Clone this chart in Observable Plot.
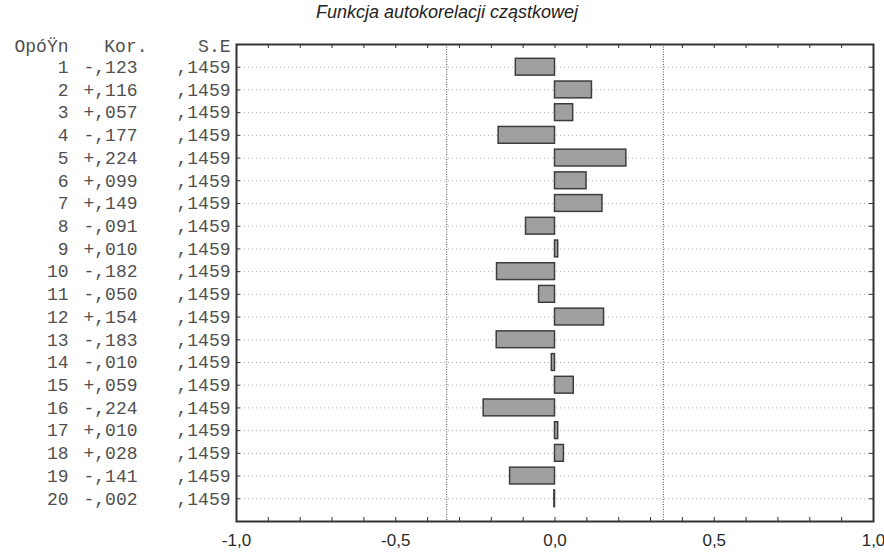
<!DOCTYPE html>
<html><head><meta charset="utf-8">
<script src="https://cdn.jsdelivr.net/npm/d3@7"></script>
<script src="https://cdn.jsdelivr.net/npm/@observablehq/plot@0.6"></script>
<style>body{margin:0;background:#fff}</style>
</head><body><div id="chart"></div>
<script>
const title = "Funkcja autokorelacji cząstkowej";
const headers = ["OpóŸn", "Kor.", "S.E"];
const lags = [1, 2, 3, 4, 5, 6, 7, 8, 9, 10, 11, 12, 13, 14, 15, 16, 17, 18, 19, 20];
const kor = [-0.123, 0.116, 0.057, -0.177, 0.224, 0.099, 0.149, -0.091, 0.010, -0.182,
             -0.050, 0.154, -0.183, -0.010, 0.059, -0.224, 0.010, 0.028, -0.141, -0.002];
const se = [0.1459, 0.1459, 0.1459, 0.1459, 0.1459, 0.1459, 0.1459, 0.1459, 0.1459, 0.1459,
            0.1459, 0.1459, 0.1459, 0.1459, 0.1459, 0.1459, 0.1459, 0.1459, 0.1459, 0.1459];
const xTicks = [-1, -0.5, 0, 0.5, 1];
const xTickLabels = ["-1,0", "-0,5", "0,0", "0,5", "1,0"];
const minorTicks = [-1, -0.9, -0.8, -0.7, -0.6, -0.5, -0.4, -0.3, -0.2, -0.1, 0,
                    0.1, 0.2, 0.3, 0.4, 0.5, 0.6, 0.7, 0.8, 0.9, 1];
const confLimits = [-0.34, 0.34];

const W = 884, H = 553, mL = 236, mR = 11, mT = 44, mB = 32;
const frameW = W - mL - mR, frameH = H - mT - mB;

const rows = lags.map((lag, i) => ({lag, r: kor[i], se: se[i]}));
const fmtKor = v => (v >= 0 ? "+" : "-") + "," + String(Math.round(Math.abs(v) * 1000)).padStart(3, "0");
const fmtSe = v => "," + String(Math.round(v * 10000));

const mono = "'Liberation Mono', 'Courier New', monospace";
const sans = "'Liberation Sans', Arial, sans-serif";
const textGray = "#505050";

const chart = Plot.plot({
  width: W, height: H,
  marginLeft: mL, marginRight: mR, marginTop: mT, marginBottom: mB,
  style: {background: "#fff", overflow: "visible"},
  x: {domain: [-1, 1], axis: null, label: null},
  y: {domain: [0, 21], reverse: true, axis: null, label: null},
  marks: [
    Plot.ruleY(rows, {y: "lag", stroke: "#b0b0b0", strokeDasharray: "1,3", strokeWidth: 1}),
    Plot.ruleX(confLimits, {x: d => d, stroke: "#444", strokeDasharray: "1,1.5", strokeWidth: 1}),
    Plot.rectX(rows, {x1: 0, x2: "r", y1: d => d.lag - 0.37, y2: d => d.lag + 0.37,
      fill: "#a0a0a0", stroke: "#3d3d3d", strokeWidth: 1.5}),
    Plot.tickX(minorTicks, {x: d => d, insetBottom: frameH - 4, stroke: "#333"}),
    Plot.tickX(minorTicks, {x: d => d, insetTop: frameH - 4, stroke: "#333"}),
    Plot.tickY(lags, {y: d => d, insetRight: frameW - 4, stroke: "#333"}),
    Plot.tickY(lags, {y: d => d, insetLeft: frameW - 4, stroke: "#333"}),
    Plot.frame({stroke: "#333", strokeWidth: 2}),
    Plot.text(rows, {y: "lag", text: d => String(d.lag), frameAnchor: "left", textAnchor: "end",
      dx: -168, fontFamily: mono, fontSize: 18, fill: textGray}),
    Plot.text(rows, {y: "lag", text: d => fmtKor(d.r), frameAnchor: "left", textAnchor: "end",
      dx: -99, fontFamily: mono, fontSize: 18, fill: textGray}),
    Plot.text(rows, {y: "lag", text: d => fmtSe(d.se), frameAnchor: "left", textAnchor: "end",
      dx: -6, fontFamily: mono, fontSize: 18, fill: textGray}),
    Plot.text([headers[0]], {frameAnchor: "top-left", textAnchor: "end", lineAnchor: "middle",
      dx: -168, dy: 2, fontFamily: mono, fontSize: 18, fill: textGray}),
    Plot.text([headers[1]], {frameAnchor: "top-left", textAnchor: "end", lineAnchor: "middle",
      dx: -89, dy: 2, fontFamily: mono, fontSize: 18, fill: textGray}),
    Plot.text([headers[2]], {frameAnchor: "top-left", textAnchor: "end", lineAnchor: "middle",
      dx: -6, dy: 2, fontFamily: mono, fontSize: 18, fill: textGray}),
    Plot.text([title], {frameAnchor: "top", lineAnchor: "middle", dx: -108, dy: -32,
      fontFamily: sans, fontStyle: "italic", fontSize: 18, fill: "#222"}),
    Plot.axisX(xTicks, {tickFormat: d => xTickLabels[xTicks.indexOf(d)], tickSize: 0,
      tickPadding: 12, fontSize: 17, fontFamily: sans, color: "#2a2a2a", label: null})
  ]
});
document.getElementById("chart").append(chart);
</script>
</body></html>
